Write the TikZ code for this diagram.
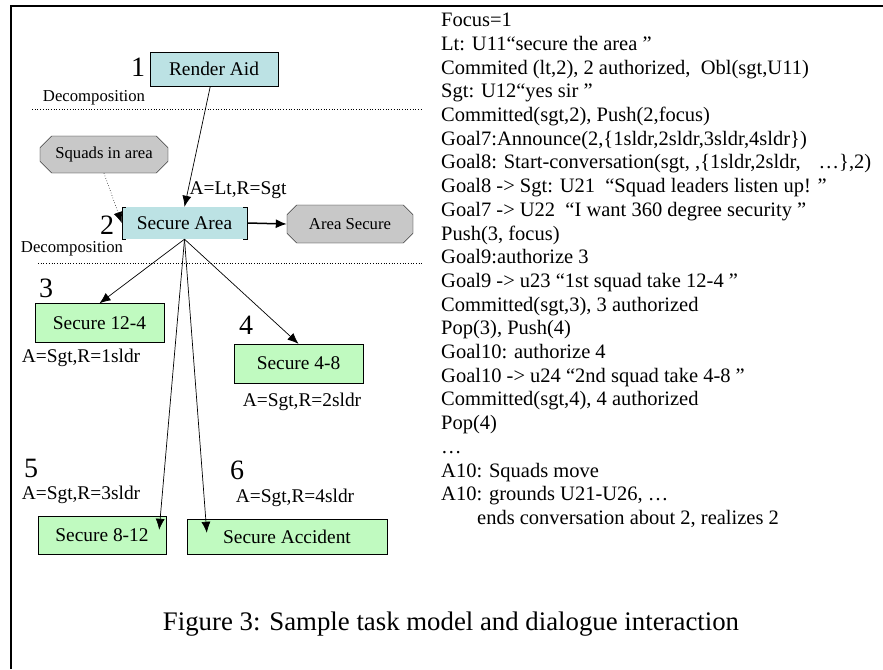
\documentclass[tikz,border=0pt]{standalone}
\usepackage{fontspec}
\setmainfont{Liberation Serif}
\usepackage{tikz}
\usetikzlibrary{positioning}
\usetikzlibrary{shapes,arrows.meta}
\definecolor{aidblue}{RGB}{188,226,228}
\definecolor{subgreen}{RGB}{192,250,192}
\definecolor{condgray}{RGB}{200,200,200}
\newcommand{\boxtxt}{\fontsize{19.4}{22}\selectfont}
\newcommand{\smalltxt}{\fontsize{16.7}{19}\selectfont}
\newcommand{\numtxt}{\fontsize{28}{30}\selectfont}
\newcommand{\logtxt}{\fontsize{20.5}{23.7}\selectfont}
\newcommand{\captxt}{\fontsize{26.8}{30}\selectfont}

\begin{document}
\begin{tikzpicture}[x=1pt,y=-1pt]
\tikzstyle{task}=[rectangle, minimum width=128pt, minimum height=34pt, draw=black, fill=aidblue, font=\boxtxt]
\tikzstyle{subtask}=[rectangle, minimum width=129pt, minimum height=39pt, draw=black, fill=subgreen, font=\boxtxt]
\tikzstyle{condition}=[chamfered rectangle, chamfered rectangle xsep=12pt, chamfered rectangle ysep=4pt, minimum width=128pt, minimum height=37pt, inner sep=0pt, draw=black, fill=condgray, font=\smalltxt]
\tikzstyle{digit}=[inner sep=0pt, font=\numtxt]
\tikzstyle{lbl}=[inner sep=0pt, font=\boxtxt]
\tikzstyle{connect}=[-{Latex[length=11pt,width=9pt]}, line width=0.7pt]
\tikzstyle{hint}=[-{Latex[length=11pt,width=9pt]}, dotted, line width=0.6pt]
\useasboundingbox (0,0) rectangle (883,669);
\draw[line width=1.6pt] (11,669) -- (11,6) -- (883,6);

	\node[task] (ra) at (214,69) {Render Aid};
	\node[task, draw=none, minimum width=125pt, minimum height=32pt] (sa) at (184.5,223) {Secure Area};
	\draw (sa.north west) ++(4,0) -- (sa.north west) -- (sa.south west) -- ++(4,0);
	\draw (sa.north east) ++(-4,0) -- (sa.north east) -- (sa.south east) -- ++(-4,0);
	\node[condition] (sq) at (104,154.5) {Squads in area};
	\node[condition, minimum width=126pt, minimum height=38pt] (as) at (350,224) {Area Secure};

	\node[subtask] (s124) at (99.5,323) {Secure 12-4};
	\node[subtask] (s48) at (298.5,363.5) {Secure 4-8};
	\node[subtask, minimum width=128pt, minimum height=38pt] (s812) at (102,535) {Secure 8-12};
	\node[subtask, minimum width=200pt, minimum height=35pt] (sacc) at (287,536.5) {Secure Accident};

	\node[digit] (n1) at (138,67) {1};
	\node[digit] (n2) at (107,225) {2};
	\node[digit] (n3) at (46,288) {3};
	\node[digit] (n4) at (246,325) {4};
	\node[digit] (n5) at (31,468) {5};
	\node[digit] (n6) at (237,470) {6};

	\node[lbl, font=\smalltxt] (dec1) at (94,98) {Decomposition};
	\node[lbl, font=\smalltxt] (dec2) at (72,249) {Decomposition};
	\draw[dotted, line width=0.7pt] (32,109) -- (423,109);
	\draw[dotted, line width=0.7pt] (38,263) -- (423,263);

	\node[lbl] (r2) at (238,190) {A=Lt,R=Sgt};
	\node[lbl] (r3) at (81,358) {A=Sgt,R=1sldr};
	\node[lbl] (r4) at (302,402) {A=Sgt,R=2sldr};
	\node[lbl] (r5) at (81,495) {A=Sgt,R=3sldr};
	\node[lbl] (r6) at (295,498) {A=Sgt,R=4sldr};

	\path
		(ra) edge[connect] (sa.north)
		(sq.south) edge[hint] (sa.west)
		(sa.east) edge[connect, line width=1.5pt] (as.west)
		(sa.south) edge[connect] (s124.north)
		(sa.south) edge[connect] (s48.north)
		(sa.south) edge[connect] ([shift={(-7,14)}]s812.north east)
		(sa.south) edge[connect] ([shift={(20,14)}]sacc.north west);

	\node[anchor=north west, align=left, inner sep=0pt, font=\logtxt] (dlg) at (441,13) {Focus=1\\
Lt: U11“secure the area ”\\
Commited (lt,2), 2 authorized,\ \ Obl(sgt,U11)\\
Sgt: U12“yes sir ”\\
Committed(sgt,2), Push(2,focus)\\
Goal7:Announce(2,\{1sldr,2sldr,3sldr,4sldr\})\\
Goal8: Start-conversation(sgt, ,\{1sldr,2sldr,\hspace{18pt}…\},2)\\
Goal8 -> Sgt: U21\ \ “Squad leaders listen up! ”\\
Goal7 -> U22\ \ “I want 360 degree security ”\\
Push(3, focus)\\
Goal9:authorize 3\\
Goal9 -> u23 “1st squad take 12-4 ”\\
Committed(sgt,3), 3 authorized\\
Pop(3), Push(4)\\
Goal10: authorize 4\\
Goal10 -> u24 “2nd squad take 4-8 ”\\
Committed(sgt,4), 4 authorized\\
Pop(4)\\
…\\
A10: Squads move\\
A10: grounds U21-U26, …\\
\hspace*{36pt}ends conversation about 2, realizes 2};

	\node[anchor=base, font=\captxt] (cap) at (451,630) {Figure 3: Sample task model and dialogue interaction};
\end{tikzpicture}
\end{document}
